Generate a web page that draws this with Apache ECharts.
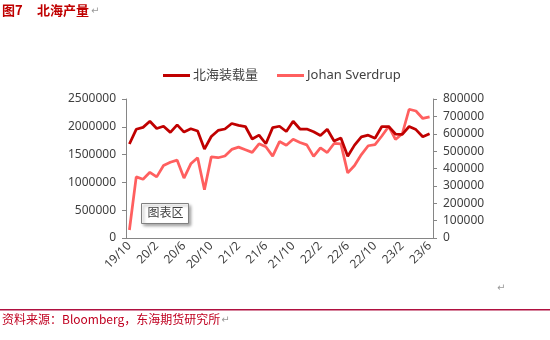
<!DOCTYPE html>
<html>
<head>
<meta charset="utf-8">
<script src="https://cdn.jsdelivr.net/npm/echarts@6/dist/echarts.min.js"></script>
<style>
html,body{margin:0;padding:0;background:#fff;}
#c{width:550px;height:340px;}
</style>
</head>
<body>
<div id="c"></div>
<script>
var categories = ['19/10','19/11','19/12','20/1','20/2','20/3','20/4','20/5','20/6','20/7','20/8','20/9','20/10','20/11','20/12',
  '21/1','21/2','21/3','21/4','21/5','21/6','21/7','21/8','21/9','21/10','21/11','21/12',
  '22/1','22/2','22/3','22/4','22/5','22/6','22/7','22/8','22/9','22/10','22/11','22/12',
  '23/1','23/2','23/3','23/4','23/5','23/6'];
var northSeaLoading = [1690000,1955000,1990000,2100000,1970000,2010000,1900000,2035000,1905000,1965000,1925000,1600000,1825000,1935000,1960000,
  2060000,2025000,2005000,1780000,1850000,1695000,1985000,2010000,1915000,2100000,1960000,1960000,
  1910000,1845000,1955000,1745000,1800000,1470000,1670000,1820000,1850000,1795000,2005000,2005000,
  1870000,1865000,2005000,1950000,1820000,1875000];
var johanSverdrup = [46000,352000,338000,378000,352000,417000,436000,448000,345000,427000,462000,278000,467000,462000,472000,
  510000,523000,508000,493000,542000,525000,471000,555000,534000,568000,550000,536000,
  470000,519000,492000,544000,542000,375000,417000,480000,531000,537000,587000,642000,
  567000,600000,741000,731000,688000,697000];
var seriesNames = ['北海装载量', 'Johan Sverdrup'];
var leftTicks = {min: 0, max: 2500000, interval: 500000};
var rightTicks = {min: 0, max: 800000, interval: 100000};

var chart = echarts.init(document.getElementById('c'));
var axisColor = '#868686';
var labelColor = '#404040';
var fontFam = '"Noto Sans", "Noto Sans CJK SC", sans-serif';
var plain = function (v) { return String(v); };
chart.setOption({
  animation: false,
  backgroundColor: '#fff',
  textStyle: {fontFamily: fontFam},
  grid: {left: 126, right: 117, top: 99, bottom: 102, containLabel: false},
  legend: {
    left: 158, top: 64,
    itemWidth: 27, itemHeight: 3, itemGap: 19,
    icon: 'rect',
    textStyle: {fontSize: 13, color: labelColor, fontFamily: fontFam, padding: [0,0,0,-2]},
    data: seriesNames
  },
  xAxis: {
    type: 'category',
    data: categories,
    boundaryGap: true,
    axisLine: {lineStyle: {color: axisColor, width: 1}},
    axisTick: {interval: 3, length: 4, lineStyle: {color: axisColor}},
    axisLabel: {interval: 3, rotate: 45, fontSize: 12, color: labelColor, margin: 6}
  },
  yAxis: [{
    type: 'value', min: leftTicks.min, max: leftTicks.max, interval: leftTicks.interval,
    axisLine: {show: true, lineStyle: {color: axisColor}},
    axisTick: {show: true, length: 4, lineStyle: {color: axisColor}},
    splitLine: {show: false},
    axisLabel: {fontSize: 12, color: labelColor, margin: 10, formatter: plain}
  }, {
    type: 'value', min: rightTicks.min, max: rightTicks.max, interval: rightTicks.interval,
    position: 'right',
    axisLine: {show: true, lineStyle: {color: axisColor}},
    axisTick: {show: true, length: 4, lineStyle: {color: axisColor}},
    splitLine: {show: false},
    axisLabel: {fontSize: 12, color: labelColor, margin: 10, formatter: plain}
  }],
  series: [{
    name: seriesNames[0], type: 'line', yAxisIndex: 0,
    data: northSeaLoading, symbol: 'none',
    lineStyle: {color: '#C00000', width: 2.75}, itemStyle: {color: '#C00000'}, z: 3
  }, {
    name: seriesNames[1], type: 'line', yAxisIndex: 1,
    data: johanSverdrup, symbol: 'none',
    lineStyle: {color: '#FF5F5F', width: 2.75}, itemStyle: {color: '#FF5F5F'}, z: 2
  }],
  graphic: [
    {type: 'text', left: 2, top: 4, style: {text: '图7', fontSize: 13, fontWeight: 'bold', fill: '#C00000', fontFamily: '"Noto Sans CJK SC", sans-serif'}},
    {type: 'text', left: 37, top: 4, style: {text: '北海产量', fontSize: 13, fontWeight: 'bold', fill: '#C00000', fontFamily: '"Noto Sans CJK SC", sans-serif'}},
    {type: 'text', left: 91, top: 6, style: {text: '↵', fontSize: 10, fill: '#999', fontFamily: 'DejaVu Sans'}},
    {type: 'text', left: 497, top: 283, style: {text: '↵', fontSize: 10, fill: '#999', fontFamily: 'DejaVu Sans'}},
    {type: 'rect', shape: {x: 0, y: 309, width: 550, height: 1.5}, style: {fill: '#B01040'}},
    {type: 'text', left: 2, top: 313, style: {
      text: '{a|资料来源：Bloomberg，东海期货研究所}{b|↵}',
      rich: {
        a: {fontSize: 12, fill: '#C00020', fontFamily: '"Noto Sans CJK SC", sans-serif'},
        b: {fontSize: 10, fill: '#999', fontFamily: 'DejaVu Sans', padding: [2,0,0,1]}
      }}},
    {type: 'group', left: 141, top: 203, children: [
      {type: 'rect', shape: {x: 0, y: 0, width: 47, height: 20}, style: {fill: '#fff', stroke: '#808080', lineWidth: 1, shadowBlur: 3, shadowOffsetX: 2, shadowOffsetY: 2, shadowColor: 'rgba(0,0,0,0.35)'}},
      {type: 'text', x: 6, y: 3, style: {text: '图表区', fontSize: 12, fill: '#404040', fontFamily: '"Noto Sans CJK SC", sans-serif'}}
    ]}
  ]
});
</script>
</body>
</html>
